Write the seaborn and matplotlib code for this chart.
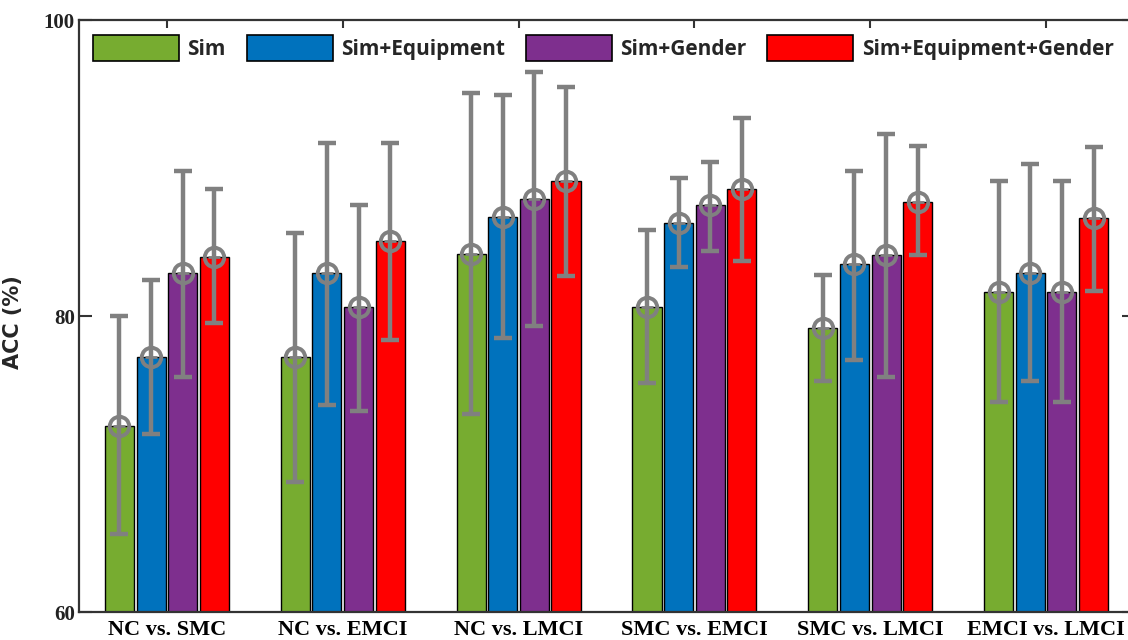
import numpy as np
import pandas as pd
import matplotlib
matplotlib.use("Agg")
import matplotlib.pyplot as plt
from matplotlib.container import BarContainer
import seaborn as sns

# ---- data ----
comparisons = ["NC vs. SMC", "NC vs. EMCI", "NC vs. LMCI",
               "SMC vs. EMCI", "SMC vs. LMCI", "EMCI vs. LMCI"]
methods = ["Sim", "Sim+Equipment", "Sim+Gender", "Sim+Equipment+Gender"]

acc_sim        = [72.6, 77.2, 84.2, 80.6, 79.2, 81.6]
acc_sim_eq     = [77.2, 82.9, 86.7, 86.3, 83.5, 82.9]
acc_sim_gen    = [82.9, 80.6, 87.9, 87.5, 84.1, 81.6]
acc_sim_eq_gen = [84.0, 85.1, 89.1, 88.6, 87.7, 86.6]

upper_sim        = [80.0, 85.6, 95.1, 85.8, 82.8, 89.1]
upper_sim_eq     = [82.4, 91.7, 94.9, 89.3, 89.8, 90.3]
upper_sim_gen    = [89.8, 87.5, 96.5, 90.4, 92.3, 89.1]
upper_sim_eq_gen = [88.6, 91.7, 95.5, 93.4, 91.5, 91.4]

lower_sim        = [65.3, 68.8, 73.4, 75.5, 75.6, 74.2]
lower_sim_eq     = [72.0, 74.0, 78.5, 83.3, 77.0, 75.6]
lower_sim_gen    = [75.9, 73.6, 79.3, 84.4, 75.9, 74.2]
lower_sim_eq_gen = [79.5, 78.4, 82.7, 83.7, 84.1, 81.7]

colors = ["#77AC30", "#0072BD", "#7E2F8E", "#FF0000"]
y_ticks = [60, 80, 100]

acc = [acc_sim, acc_sim_eq, acc_sim_gen, acc_sim_eq_gen]
upper = [upper_sim, upper_sim_eq, upper_sim_gen, upper_sim_eq_gen]
lower = [lower_sim, lower_sim_eq, lower_sim_gen, lower_sim_eq_gen]

rows = []
for m, vals in zip(methods, acc):
    for c, v in zip(comparisons, vals):
        rows.append({"comparison": c, "method": m, "acc": v})
df = pd.DataFrame(rows)

sns.set_style("white")

W, H = 1128, 640
fig = plt.figure(figsize=(W / 100, H / 100), dpi=100)
L, R, T, B = 79, 1134, 20, 612
ax = fig.add_axes([L / W, (H - B) / H, (R - L) / W, (B - T) / H])

sns.barplot(data=df, x="comparison", y="acc", hue="method",
            order=comparisons, hue_order=methods, palette=colors,
            saturation=1, width=0.72, gap=0.08, edgecolor="black",
            linewidth=1.0, errorbar=None, ax=ax, zorder=2)

bar_conts = [c for c in ax.containers if isinstance(c, BarContainer)]

grey = "#808080"
for i, cont in enumerate(bar_conts):
    xs = np.array([b.get_x() + b.get_width() / 2 for b in cont])
    m = np.array(acc[i])
    up = np.array(upper[i])
    lo = np.array(lower[i])
    ax.errorbar(xs, m, yerr=[m - lo, up - m], fmt="none", ecolor=grey,
                elinewidth=3.2, capsize=6.5, capthick=3.2, zorder=3)
    ax.plot(xs, m, "o", mfc="none", mec=grey, ms=14, mew=2.8, zorder=4)
    ax.plot(xs, m, "_", color=grey, ms=8, mew=2.0, zorder=4)

ax.set_xlim(-0.5, 5.5)
ax.set_ylim(60, 100)
ax.set_yticks(y_ticks)
ax.set_yticklabels([str(t) for t in y_ticks], family="Liberation Serif",
                   fontsize=15, fontweight="bold", color="#222222")
ax.tick_params(axis="y", which="both", direction="in", length=9, width=1.5,
               left=True, right=True, pad=3, colors="#333333",
               labelcolor="#222222")
ax.tick_params(axis="x", which="both", bottom=False, top=True,
               direction="in", length=6, width=1.5, pad=6, colors="#333333",
               labelcolor="black")
for lab in ax.get_xticklabels():
    lab.set_family("Liberation Serif")
    lab.set_fontsize(16)
    lab.set_fontweight("bold")
ax.set_xlabel("")
ax.set_ylabel("ACC (%)", family="DejaVu Sans", fontsize=15,
              fontweight="bold", labelpad=12)
ax.yaxis.set_label_coords(-56 / (R - L), 0.49)

for s in ax.spines.values():
    s.set_visible(True)
    s.set_color("#333333")
    s.set_linewidth(1.6)

handles, labels = ax.get_legend_handles_labels()
ax.legend(handles, labels, ncol=4, loc="center left",
          bbox_to_anchor=(14 / (R - L), (B - 48) / (B - T)),
          frameon=False, prop={"family": "Open Sans", "weight": "bold", "size": 15},
          handlelength=4.13, handleheight=1.47, handletextpad=0.4,
          columnspacing=1.0, borderaxespad=0, borderpad=0)
leg = ax.get_legend()
for p in leg.get_patches():
    p.set_edgecolor("black")
    p.set_linewidth(1.2)

fig.savefig("out.png", dpi=100)
